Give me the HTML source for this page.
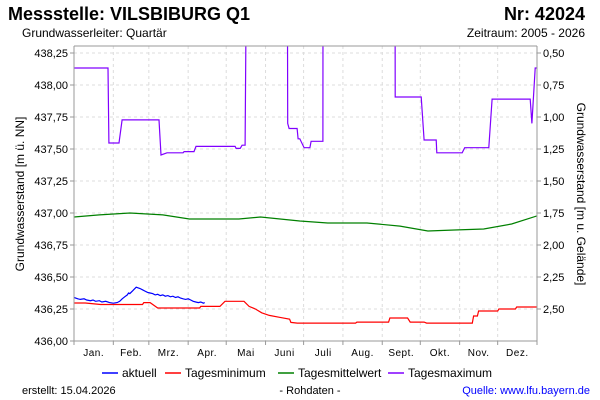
<!DOCTYPE html>
<html><head><meta charset="utf-8"><style>
body{margin:0;background:#fff;width:600px;height:400px;overflow:hidden;font-family:"Liberation Sans",sans-serif}
svg{display:block}
</style></head><body>
<svg id="chart" width="600" height="400" viewBox="0 0 600 400" font-family="Liberation Sans, sans-serif">
<text x="8" y="20" font-size="18" font-weight="bold">Messstelle: VILSBIBURG Q1</text>
<text x="585" y="20" font-size="18" font-weight="bold" text-anchor="end">Nr: 42024</text>
<text x="22" y="37" font-size="12">Grundwasserleiter: Quartär</text>
<text x="585" y="37" font-size="12" text-anchor="end">Zeitraum: 2005 - 2026</text>
<text transform="translate(24,194) rotate(-90)" font-size="12" text-anchor="middle">Grundwasserstand [m ü. NN]</text>
<text transform="translate(577,194) rotate(90)" font-size="12" text-anchor="middle">Grundwasserstand [m u. Gelände]</text>
<g id="grid"></g><g id="series"></g><g id="axes"></g>
<g font-size="12">
<line x1="102" y1="373" x2="118" y2="373" stroke="#0000ff" stroke-width="1.5"/><text x="122" y="377">aktuell</text>
<line x1="165" y1="373" x2="181" y2="373" stroke="#ff0000" stroke-width="1.5"/><text x="185" y="377">Tagesminimum</text>
<line x1="278" y1="373" x2="294" y2="373" stroke="#008000" stroke-width="1.5"/><text x="298" y="377">Tagesmittelwert</text>
<line x1="388" y1="373" x2="404" y2="373" stroke="#8000ff" stroke-width="1.5"/><text x="408" y="377">Tagesmaximum</text>
</g>
<text x="22" y="394" font-size="11">erstellt:  15.04.2026</text>
<text x="310" y="394" font-size="11" text-anchor="middle">- Rohdaten -</text>
<text x="590" y="394" font-size="11" fill="#0000ff" text-anchor="end">Quelle: www.lfu.bayern.de</text>
</svg>
<script>
const months=["Jan.","Feb.","Mrz.","Apr.","Mai","Juni","Juli","Aug.","Sept.","Okt.","Nov.","Dez."];
const monthStarts=[0,31,59,90,120,151,181,212,243,273,304,334,365];
const leftTicks=[436.00,436.25,436.50,436.75,437.00,437.25,437.50,437.75,438.00,438.25];
const rightTicks=[0.50,0.75,1.00,1.25,1.50,1.75,2.00,2.25,2.50];
const groundLevel=438.75;
const aktuellDays=[0,3,5,8,10,13,15,17,20,22,25,28,31,34,36,38,40,42,43,44,46,47,49,52,54,56,58,60,62,64,66,68,70,72,74,76,78,80,82,84,86,88,90,92,94,96,98,100,102,103];
const aktuellVals=[436.34,436.33,436.325,436.33,436.32,436.315,436.32,436.31,436.315,436.305,436.31,436.30,436.295,436.30,436.31,436.33,436.345,436.36,436.375,436.37,436.39,436.40,436.42,436.41,436.40,436.39,436.38,436.375,436.37,436.36,436.365,436.355,436.36,436.35,436.355,436.345,436.35,436.34,436.345,436.335,436.33,436.325,436.33,436.32,436.31,436.305,436.30,436.305,436.295,436.30];
const minDays=[0,9,21,54,55,60,66,99,100,115,119,134,138,143,148,154,162,170,171,176,178,222,223,248,249,263,265,276,278,314,315,318,319,334,335,348,349,365];
const minVals=[436.297,436.297,436.285,436.285,436.30,436.30,436.258,436.258,436.27,436.27,436.31,436.31,436.27,436.25,436.22,436.20,436.185,436.17,436.145,436.14,436.14,436.14,436.148,436.148,436.18,436.18,436.148,436.148,436.14,436.14,436.195,436.195,436.234,436.234,436.25,436.25,436.266,436.266];
const meanDays=[0,20,44,70,91,130,147,178,200,231,257,279,300,323,345,365];
const meanVals=[436.969,436.985,437.0,436.985,436.953,436.953,436.969,436.9375,436.922,436.922,436.898,436.859,436.867,436.875,436.914,436.977];
const maxDays=[0,26.8,27.5,35.5,37.9,67,68.6,73.3,86,86.8,94.6,96.2,127,127.8,131,132.5,134.9,135.6,137,168,168.5,169.6,175.9,176.7,178,181.4,186,186.9,196.2,196.4,253,253.2,273.7,276,285.5,286,306,308,327,329.6,359.6,361,363.6,365];
const maxVals=[438.133,438.133,437.547,437.547,437.727,437.727,437.453,437.47,437.47,437.48,437.48,437.52,437.52,437.505,437.505,437.53,437.53,438.5,440,440,437.70,437.66,437.66,437.58,437.58,437.51,437.51,437.56,437.56,440,440,437.906,437.906,437.57,437.57,437.47,437.47,437.51,437.51,437.89,437.89,437.70,438.133,438.133];
const X0=74,X1=537,Y0=341,YT=46;
const xS=d=>X0+d*(X1-X0)/365;
const yS=v=>Y0-(v-436)*128;
const yR=r=>yS(groundLevel-r);
const NS="http://www.w3.org/2000/svg";
function mk(tag,attrs,parent){const e=document.createElementNS(NS,tag);for(const k in attrs)e.setAttribute(k,attrs[k]);parent.appendChild(e);return e;}
const grid=document.getElementById('grid'),axes=document.getElementById('axes'),series=document.getElementById('series');
leftTicks.forEach(v=>{const y=yS(v);
 if(v>436){const g=mk('line',{x1:X0,x2:X1,y1:y,y2:y,stroke:'#dcdcdc','stroke-dasharray':'3,3'},grid);}
 const t=mk('line',{x1:X0-4,x2:X0,y1:y,y2:y,stroke:'#999'},axes);
 const l=mk('text',{x:X0-6,y:y+4,'font-size':11,'text-anchor':'end'},axes);l.textContent=v.toFixed(2).replace('.',',');});
rightTicks.forEach(r=>{const y=yR(r);
 const t=mk('line',{x1:X1,x2:X1+4,y1:y,y2:y,stroke:'#999'},axes);
 const l=mk('text',{x:X1+6,y:y+4,'font-size':11},axes);l.textContent=r.toFixed(2).replace('.',',');});
monthStarts.forEach((d,i)=>{const x=xS(d);
 if(i>0&&i<12){const g=mk('line',{x1:x,x2:x,y1:YT,y2:Y0,stroke:'#dcdcdc','stroke-dasharray':'3,3'},grid);}
 const t=mk('line',{x1:x,x2:x,y1:Y0,y2:Y0+4,stroke:'#999'},axes);
 if(i<12){const l=mk('text',{x:xS((d+monthStarts[i+1])/2),y:Y0+15,'font-size':10,'text-anchor':'middle','letter-spacing':'0.5'},axes);l.textContent=months[i];}});
[[X0,YT,X1,YT],[X0,YT,X0,Y0],[X1,YT,X1,Y0],[X0,Y0,X1,Y0]].forEach(a=>{const l=mk('line',{x1:a[0],y1:a[1],x2:a[2],y2:a[3],stroke:'#999'},axes);});
mk('clipPath',{id:'clp'},series).appendChild(document.createElementNS(NS,'rect'));
const cr=document.querySelector('#clp rect');cr.setAttribute('x',X0);cr.setAttribute('y',YT);cr.setAttribute('width',X1-X0);cr.setAttribute('height',Y0-YT);
function line(days,vals,color,name){const p=mk('polyline',{points:days.map((d,i)=>xS(d).toFixed(1)+','+yS(vals[i]).toFixed(1)).join(' '),fill:'none',stroke:color,'stroke-width':1.2,'clip-path':'url(#clp)'},series);}
line(meanDays,meanVals,'#008000','tagesmittelwert-line');
line(maxDays,maxVals,'#8000ff','tagesmaximum-line');
line(minDays,minVals,'#ff0000','tagesminimum-line');
line(aktuellDays,aktuellVals,'#0000ff','aktuell-line');
</script>
</body></html>
